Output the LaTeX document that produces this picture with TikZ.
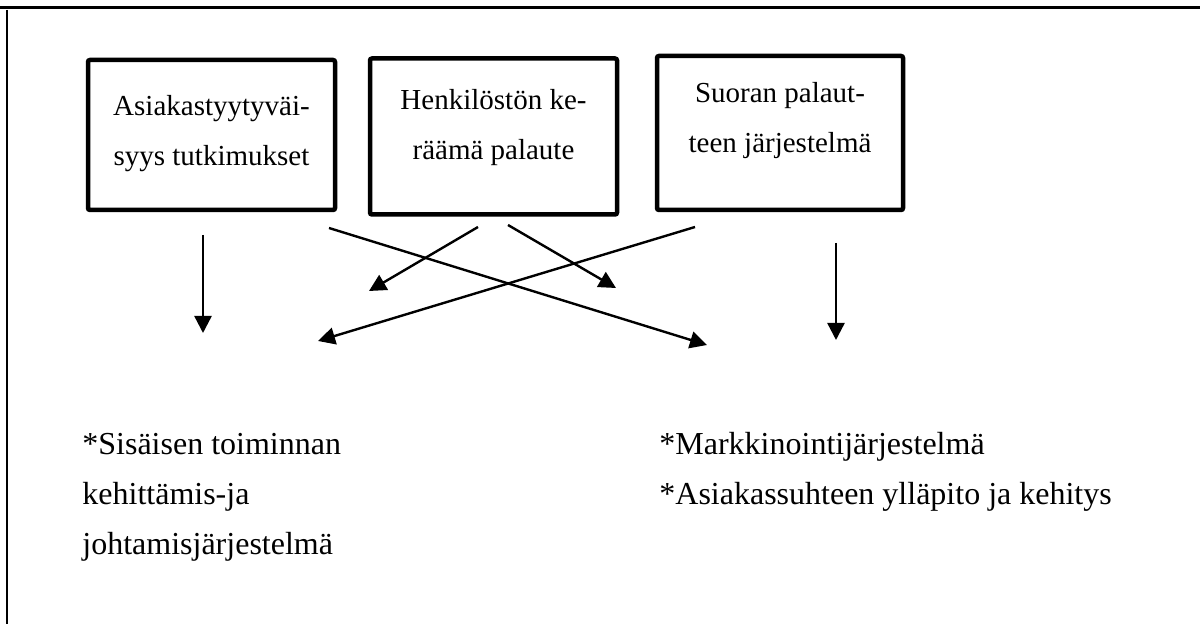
\documentclass[tikz,border=0pt]{standalone}
\usepackage{fontspec}
\setmainfont{Liberation Serif}
\usetikzlibrary{arrows.meta}

\begin{document}
\begin{tikzpicture}[x=0.5pt,y=0.5pt,yscale=-1,
    srcbox/.style={draw, line width=2.25pt, rounded corners=1pt, align=center, inner sep=0pt,
        minimum width=123.5pt, font=\fontsize{14.5}{25}\selectfont},
    flow/.style={line width=1.2pt, -{Triangle[length=8.5pt,width=8.5pt]}},
    result/.style={anchor=base west, align=left, inner sep=0pt, font=\fontsize{16}{25}\selectfont}]
    \useasboundingbox (0,0) rectangle (1200,624);

    %Frame
    \draw [line width=1.5pt] (0,8) -- (1200,8) ;
    \draw [line width=1pt] (7,10) -- (7,624) ;

    %Shape: Rectangle [asiakas]
    \node [srcbox, minimum height=75pt, text depth=5pt] (asiakas) at (211.5,135) {Asiakastyytyväi-\\syys tutkimukset};
    %Shape: Rectangle [henkilosto]
    \node [srcbox, minimum height=78pt, text depth=12pt] (henkilosto) at (493.5,136.5) {Henkilöstön ke-\\räämä palaute};
    %Shape: Rectangle [suora]
    \node [srcbox, minimum height=77pt, minimum width=123pt, text depth=15.5pt] (suora) at (780,133) {Suoran palaut-\\teen järjestelmä};

    %Arrow ends
    \coordinate (a1s) at (203,235) ;  \coordinate (a1e) at (203,333) ;
    \coordinate (a2s) at (329,228) ;  \coordinate (a2e) at (707,345) ;
    \coordinate (a3s) at (478,227) ;  \coordinate (a3e) at (369,291) ;
    \coordinate (a4s) at (508,225) ;  \coordinate (a4e) at (616,288) ;
    \coordinate (a5s) at (695,227) ;  \coordinate (a5e) at (318,341) ;
    \coordinate (a6s) at (836,243) ;  \coordinate (a6e) at (836,340) ;

    %Straight Lines
    \draw [flow] (a1s) -- (a1e) ;
    \draw [flow] (a2s) -- (a2e) ;
    \draw [flow] (a3s) -- (a3e) ;
    \draw [flow] (a4s) -- (a4e) ;
    \draw [flow] (a5s) -- (a5e) ;
    \draw [flow] (a6s) -- (a6e) ;

    % Text Node (base = last line)
    \node [result] (sisainen) at (82,555) {*Sisäisen toiminnan\\kehittämis-ja\\johtamisjärjestelmä};
    % Text Node (base = last line)
    \node [result] (markkinointi) at (659,505) {*Markkinointijärjestelmä\\*Asiakassuhteen ylläpito ja kehitys};

\end{tikzpicture}
\end{document}
